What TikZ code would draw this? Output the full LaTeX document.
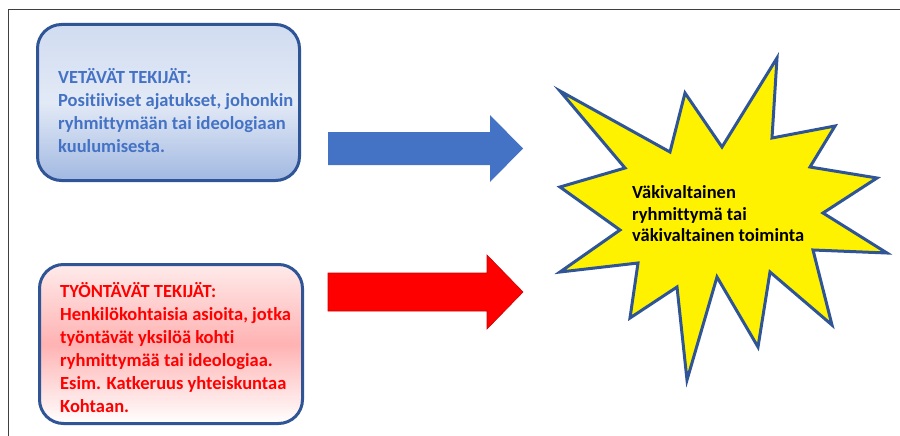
\documentclass[tikz,border=0pt]{standalone}
\usepackage{fontspec}
\setmainfont{Carlito}[Ligatures=NoCommon]
\usetikzlibrary{positioning}
\definecolor{boxborder}{HTML}{2F5597}
\definecolor{pullblue}{HTML}{4472C4}
\definecolor{pushred}{HTML}{FF0000}
\definecolor{framegray}{HTML}{404040}
\tikzset{
    pullbox/.style={
        rectangle,
        rounded corners=24pt,
        draw=boxborder, % tumma sininen reuna
        line width=3pt,
        top color=pullblue!25!white,
        bottom color=pullblue!50!white,
        middle color=pullblue!15!white,
        minimum width=262pt,
        minimum height=156pt,
        inner sep=0
    },
    pushbox/.style={
        rectangle,
        rounded corners=24pt,
        draw=boxborder,
        line width=3pt,
        top color=pushred!8!white,
        bottom color=white,
        middle color=pushred!30!white, % vaaleanpunainen keskellä
        minimum width=263pt,
        minimum height=159pt,
        inner sep=0
    },
    boxtext/.style={
        anchor=west,
        align=left,
        inner sep=0,
        font=\bfseries\fontsize{18.5}{23}\selectfont
    },
    bigarrow/.style={
        line width=0.6pt
    },
    burst/.style={
        draw=boxborder,
        fill=yellow,
        line width=3pt
    }
}
\begin{document}
\begin{tikzpicture}[x=1pt,y=-1pt]
    \useasboundingbox (0,0) rectangle (900,436);
    % kehys
    \draw[framegray, line width=1pt] (8,436) -- (8,10) -- (900,10);

    % vetävät tekijät
    \node[pullbox] (pullbox) at (168.5,102.5) {};
    \node[boxtext, text=pullblue] (pulltext) at ([xshift=22pt,yshift=-8pt]pullbox.west)
        {VETÄVÄT TEKIJÄT:\\
         Positiiviset ajatukset, johonkin\\
         ryhmittymään tai ideologiaan\\
         kuulumisesta.};

    % työntävät tekijät
    \node[pushbox] (pushbox) at (171,344) {};
    \node[boxtext, text=pushred] (pushtext) at ([xshift=22pt,yshift=-4pt]pushbox.west)
        {TYÖNTÄVÄT TEKIJÄT:\\
         Henkilökohtaisia asioita, jotka\\
         työntävät yksilöä kohti\\
         ryhmittymää tai ideologiaa.\\
         Esim. Katkeruus yhteiskuntaa\\
         Kohtaan.};

    % nuolet
    \fill[bigarrow, pullblue] (328,132) -- (490,132) -- (490,115) -- (523,148.5)
        -- (490,182) -- (490,165) -- (328,165) -- cycle;
    \filldraw[bigarrow, fill=pushred, draw=pushred!80!black] (328,273) -- (487,273)
        -- (487,255) -- (523,292) -- (487,329) -- (487,311) -- (328,311) -- cycle;

    % tähti
    \draw[burst] (560,91) -- (670,152) -- (685,93) -- (722,147) -- (777,58)
        -- (772,138) -- (835,126) -- (810,167) -- (877,178) -- (823,213)
        -- (887,253) -- (813,250) -- (832,325) -- (770,272) -- (758,347)
        -- (717,277) -- (687,380) -- (677,287) -- (630,318) -- (638,263)
        -- (560,272) -- (620,230) -- (560,187) -- (625,168) -- cycle;
    \node[anchor=west, align=left, inner sep=0,
          font=\bfseries\fontsize{18.5}{21.5}\selectfont] (bursttext) at (632,214)
        {Väkivaltainen\\
         ryhmittymä tai\\
         väkivaltainen toiminta};
\end{tikzpicture}
\end{document}
